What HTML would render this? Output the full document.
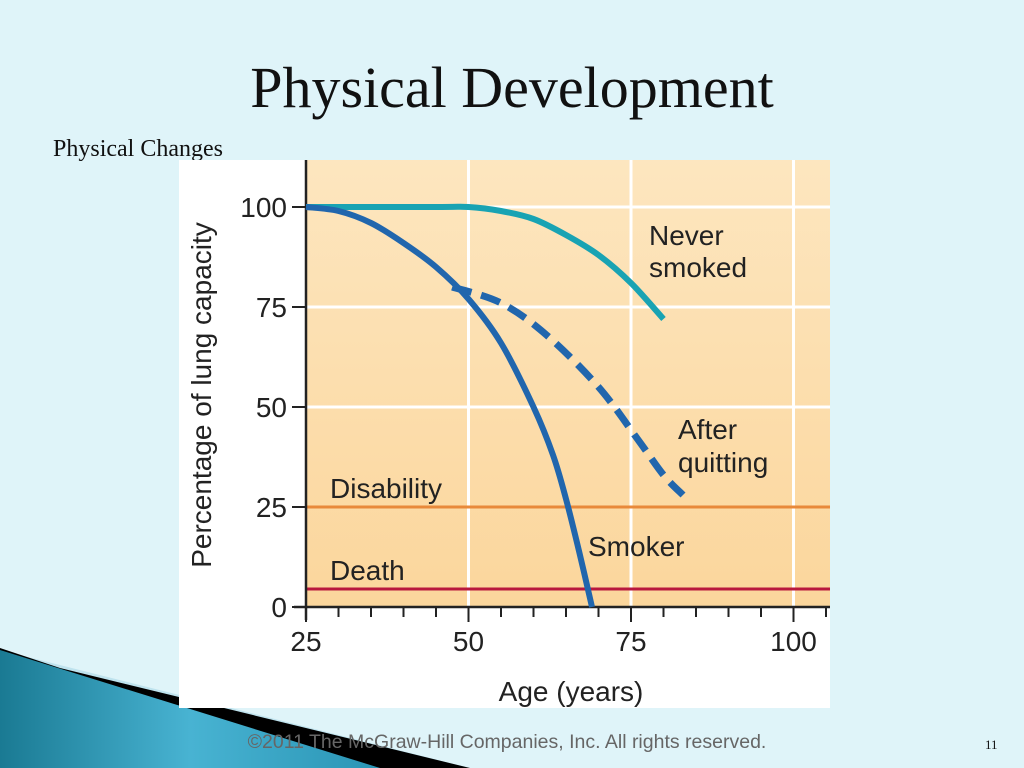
<!DOCTYPE html>
<html><head><meta charset="utf-8"><style>
body{margin:0;width:1024px;height:768px;overflow:hidden;background:#dff4f9;position:relative;font-family:"Liberation Sans",sans-serif}
.t{position:absolute}
</style></head><body>
<svg class="t" style="left:0;top:0" width="1024" height="768">
<defs><linearGradient id="tg" x1="0" y1="0" x2="1" y2="0"><stop offset="0" stop-color="#1a7a93"/><stop offset="0.5" stop-color="#48b3d2"/><stop offset="1" stop-color="#2a95b5"/></linearGradient>
<linearGradient id="bg" x1="0" y1="0" x2="0" y2="1"><stop offset="0" stop-color="#fde6bf"/><stop offset="1" stop-color="#fbd69c"/></linearGradient></defs>
<polygon points="0,650 470,768 0,768" fill="#bfe3ee"/>
<polygon points="0,648 60,668 470,768 0,768" fill="#000"/>
<polygon points="0,650 380,768 0,768" fill="url(#tg)"/>
</svg>
<div class="t" style="left:0;width:1024px;top:54px;text-align:center;font:58px 'Liberation Serif',serif;color:#111">Physical Development</div>
<div class="t" style="left:53px;top:136px;font:24px 'Liberation Serif',serif;color:#111">Physical Changes</div>
<svg class="t" style="left:0;top:0" width="1024" height="768" id="ch">
<rect x="179" y="160" width="651" height="548" fill="#fff"/>
<rect x="306" y="160" width="524" height="447" fill="url(#bg)"/>
</svg>
<div class="t" style="left:0;width:1014px;top:731px;text-align:center;font:19.5px 'Liberation Sans',sans-serif;color:#666">©2011 The McGraw-Hill Companies, Inc. All rights reserved.</div>
<div class="t" style="left:985px;top:737px;font:13px 'Liberation Serif',serif;color:#111">11</div>
<script>
const ages=[25,30,35,40,45,50,55,60,63,65,67,69];
const smoker=[100,99,96,91,85,77,66,50,38,27,14,0];
const neverAges=[25,45,50,55,60,65,70,75,80];
const never=[100,100,100,99,97,93,88,81,72];
const quitAges=[47.5,55,62,70,76,80,83];
const quit=[80,76,68,55,42,33,28];
const xTicks=[25,50,75,100];
const yTicks=[0,25,50,75,100];
const disability=25, death=4.5;
const X=a=>306+(a-25)*6.5, Y=v=>607-v*4;
const s=document.getElementById('ch'),NS='http://www.w3.org/2000/svg';
function mk(t,a,txt){const e=document.createElementNS(NS,t);for(const k in a)e.setAttribute(k,a[k]);if(txt!=null)e.textContent=txt;s.appendChild(e);return e;}
xTicks.slice(1).forEach(a=>{const e=mk('line',{x1:X(a),x2:X(a),y1:160,y2:607,stroke:'#fff','stroke-width':3});

});
yTicks.slice(1).forEach(v=>{const e=mk('line',{x1:306,x2:830,y1:Y(v),y2:Y(v),stroke:'#fff','stroke-width':3});

});
let e=mk('line',{x1:306,x2:830,y1:Y(disability),y2:Y(disability),stroke:'#e8893a','stroke-width':3});


e=mk('line',{x1:306,x2:830,y1:Y(death),y2:Y(death),stroke:'#b8183e','stroke-width':3});


mk('line',{x1:306,x2:306,y1:160,y2:620,stroke:'#222','stroke-width':2.5});
mk('line',{x1:294,x2:830,y1:607,y2:607,stroke:'#222','stroke-width':2.5});
for(let a=25;a<=105;a+=5){mk('line',{x1:X(a),x2:X(a),y1:607,y2:a%25==0?622:617,stroke:'#222','stroke-width':2});}
yTicks.forEach(v=>{mk('line',{x1:292,x2:306,y1:Y(v),y2:Y(v),stroke:'#222','stroke-width':2});
const t=mk('text',{x:287,y:Y(v)+10,'text-anchor':'end','font-size':28,fill:'#222'},String(v));

});
xTicks.forEach(a=>{const t=mk('text',{x:X(a),y:651,'text-anchor':'middle','font-size':28,fill:'#222'},String(a));

});
function path(xs,ys){const p=xs.map((a,i)=>[X(a),Y(ys[i])]);let d='M'+p[0][0]+','+p[0][1];
for(let i=0;i<p.length-1;i++){const p0=p[i-1]||p[i],p1=p[i],p2=p[i+1],p3=p[i+2]||p2;
d+='C'+(p1[0]+(p2[0]-p0[0])/6)+','+(p1[1]+(p2[1]-p0[1])/6)+' '+(p2[0]-(p3[0]-p1[0])/6)+','+(p2[1]-(p3[1]-p1[1])/6)+' '+p2[0]+','+p2[1];}
return d;}
e=mk('path',{d:path(neverAges,never),fill:'none',stroke:'#19a3b3','stroke-width':6,'stroke-linejoin':'round'});


e=mk('path',{d:path(ages,smoker),fill:'none',stroke:'#2166ad','stroke-width':6,'stroke-linejoin':'round'});


e=mk('path',{d:path(quitAges,quit),fill:'none',stroke:'#2166ad','stroke-width':7,'stroke-dasharray':'20,10'});


const labels=[['Never',649,245,'never-label'],['smoked',649,277,'smoked-label'],['After',678,439,'after-label'],['quitting',678,472,'quitting-label'],['Disability',330,498,'disability-label'],['Smoker',588,556,'smoker-label'],['Death',330,580,'death-label']];
labels.forEach(l=>{const t=mk('text',{x:l[1],y:l[2],'font-size':28,fill:'#222'},l[0]);

});
e=mk('text',{x:571,y:701,'text-anchor':'middle','font-size':28,fill:'#222'},'Age (years)');


e=mk('text',{x:0,y:0,'text-anchor':'middle','font-size':28,fill:'#222',transform:'translate(211,395) rotate(-90)'},'Percentage of lung capacity');


</script>
</body></html>
